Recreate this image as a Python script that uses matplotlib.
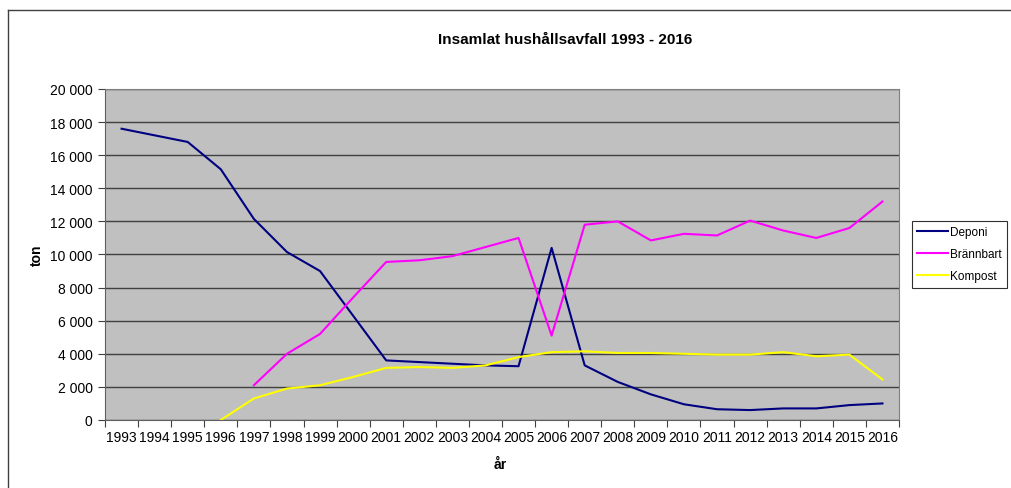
import matplotlib
matplotlib.use('Agg')
import matplotlib.pyplot as plt
import numpy as np
from matplotlib.ticker import FuncFormatter, FixedLocator
from matplotlib.lines import Line2D

plt.rcParams['font.family'] = ['Liberation Sans', 'DejaVu Sans']

years = list(range(1993, 2017))
deponi = [17600, 17200, 16800, 15150, 12150, 10150, 9000, 6300, 3600, 3500, 3400, 3300,
          3250, 10400, 3300, 2300, 1550, 950, 650, 600, 700, 700, 900, 1000]
brannbart = [np.nan, np.nan, np.nan, np.nan, 2100, 4000, 5200, 7400, 9550, 9650, 9900, 10450,
             11000, 5100, 11800, 12000, 10850, 11250, 11150, 12050, 11450, 11000, 11600, 13200]
kompost = [np.nan, np.nan, np.nan, 0, 1300, 1900, 2100, 2600, 3150, 3200, 3150, 3300,
           3800, 4100, 4150, 4050, 4050, 4000, 3950, 3950, 4100, 3850, 3950, 2450]

fig = plt.figure(figsize=(10.11, 4.89), dpi=100)
ax = fig.add_axes([105/1011, 1-421/489, (899-105)/1011, (421-90)/489])
ax.set_facecolor('#C0C0C0')

x = np.arange(len(years))
ax.plot(x, deponi, color='#000080', lw=1.5, label='Deponi')
ax.plot(x, brannbart, color='#FF00FF', lw=1.5, label='Brännbart')
ax.plot(x, kompost, color='#FFFF00', lw=1.5, label='Kompost')

ax.set_xlim(-0.5, len(years) - 0.5)
ax.set_ylim(0, 20000)
ax.set_yticks(range(0, 20001, 2000))
ax.yaxis.set_major_formatter(FuncFormatter(lambda v, p: f'{int(v):,}'.replace(',', ' ')))
ax.grid(axis='y', color='#404040', lw=1)
ax.set_axisbelow(True)

ax.xaxis.set_major_locator(FixedLocator(np.arange(-0.5, len(years), 1.0)))
ax.xaxis.set_minor_locator(FixedLocator(x))
ax.set_xticklabels([])
ax.set_xticklabels([str(y) for y in years], minor=True)
ax.tick_params(axis='x', which='major', length=5, color='#404040')
ax.tick_params(axis='x', which='minor', length=0, pad=7, labelsize=10)
ax.tick_params(axis='y', length=5, color='#404040', labelsize=10, pad=4)

for s in ['top', 'right']:
    ax.spines[s].set_color('#808080')
for s in ['left', 'bottom']:
    ax.spines[s].set_color('#606060')

fig.text(565/1011, 1-40/489, 'Insamlat hushållsavfall 1993 - 2016', ha='center', va='center',
         fontsize=11, fontweight='bold')
fig.text(37/1011, 1-255/489, 'ton', ha='center', va='center', rotation=90,
         fontsize=10, fontweight='bold')
fig.text(500/1011, 1-465/489, 'år', ha='center', va='center', fontsize=10, fontweight='bold')

leg = fig.legend(loc='upper left', bbox_to_anchor=(912/1011, 1-222/489), frameon=True,
                 fancybox=False, edgecolor='#303030', framealpha=1, fontsize=8.5,
                 handlelength=2.6, borderpad=0.45, labelspacing=0.85, handletextpad=0.15,
                 borderaxespad=0)
leg.get_frame().set_linewidth(0.8)

fig.add_artist(Line2D([8/1011, 8/1011], [0, 1-11/489], color='#404040', lw=1))
fig.add_artist(Line2D([8/1011, 1], [1-11/489, 1-11/489], color='#404040', lw=1))

fig.savefig('out.png', dpi=100)
